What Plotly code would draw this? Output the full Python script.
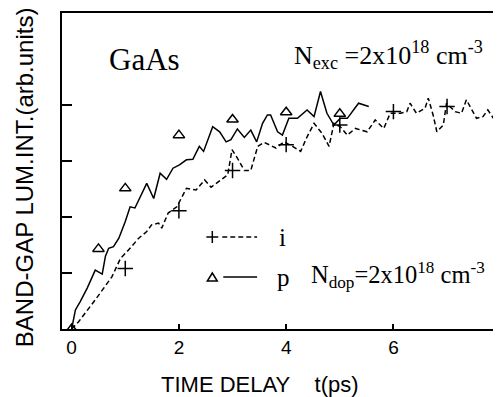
import plotly.graph_objects as go

# p-type (solid) trace
t_p_line = [0, 0.07, 0.16, 0.29, 0.44, 0.57, 0.63, 0.69, 0.78, 0.88, 1.00, 1.09, 1.18, 1.40, 1.53,
            1.65, 1.77, 1.89, 2.01, 2.14, 2.26, 2.38, 2.46, 2.63, 2.76, 2.88, 2.97, 3.09, 3.22, 3.34,
            3.45, 3.56, 3.65, 3.71, 3.84, 3.93, 4.05, 4.21, 4.39, 4.52, 4.64, 4.76, 4.89, 5.01, 5.14,
            5.35, 5.54]
y_p_line = [0, 0.34, 0.49, 0.73, 1.05, 0.98, 1.30, 1.44, 1.47, 1.62, 1.92, 2.18, 2.16, 2.60, 2.33,
            2.78, 2.67, 2.87, 2.93, 3.02, 3.03, 3.26, 3.17, 3.61, 3.52, 3.34, 3.38, 3.57, 3.42, 3.55,
            3.34, 3.67, 3.82, 3.82, 3.52, 3.46, 3.76, 3.76, 3.91, 3.79, 4.24, 3.85, 3.64, 3.76, 3.76,
            4.03, 3.97]

# intrinsic (dashed) trace
t_i_line = [0, 0.13, 0.44, 0.75, 0.91, 1.06, 1.25, 1.40, 1.49, 1.62, 1.68, 1.80, 1.96, 2.14, 2.32,
            2.48, 2.60, 2.79, 2.91, 2.99, 3.09, 3.22, 3.34, 3.47, 3.59, 3.81, 3.96, 4.12, 4.27, 4.39,
            4.52, 4.67, 4.80, 4.89, 5.01, 5.14, 5.29, 5.51, 5.66, 5.82, 5.94, 6.13, 6.25, 6.31, 6.43,
            6.59, 6.65, 6.74, 6.81, 6.93, 6.99, 7.15, 7.27, 7.36, 7.45, 7.55, 7.67, 7.76, 7.88]
y_i_line = [0, 0.13, 0.52, 0.93, 1.26, 1.41, 1.62, 1.74, 1.86, 1.89, 1.80, 2.07, 2.18, 2.51, 2.48,
            2.66, 2.53, 2.67, 2.75, 3.20, 3.05, 2.83, 2.83, 3.26, 3.33, 3.23, 3.34, 3.26, 3.17, 3.43,
            3.67, 3.49, 3.26, 3.67, 3.61, 3.46, 3.58, 3.52, 3.73, 3.58, 3.85, 3.85, 3.88, 4.03, 3.85,
            3.94, 4.12, 3.82, 3.52, 3.64, 4.03, 3.88, 3.85, 4.09, 3.94, 3.76, 3.79, 3.91, 3.74]

# markers
t_p_pts = [0, 0.5, 1, 2, 3, 4, 5]
y_p_pts = [0, 1.43, 2.51, 3.46, 3.74, 3.87, 3.84]
t_i_pts = [1, 2, 3, 4, 5, 6, 7]
y_i_pts = [1.08, 2.11, 2.83, 3.29, 3.64, 3.88, 3.97]

x_ticks = [0, 2, 4, 6]
y_ticks = [1, 2, 3, 4]

SANS = "Liberation Sans, Arial, sans-serif"
SERIF = "Liberation Serif, Times New Roman, serif"

fig = go.Figure()
fig.add_trace(go.Scatter(x=t_i_line, y=y_i_line, mode="lines",
                         line=dict(color="black", width=1.5, dash="5px,3px"), showlegend=False))
fig.add_trace(go.Scatter(x=t_p_line, y=y_p_line, mode="lines",
                         line=dict(color="black", width=1.5), showlegend=False))
fig.add_trace(go.Scatter(x=t_i_pts, y=y_i_pts, mode="markers",
                         marker=dict(symbol="cross-thin-open", size=11, color="black",
                                     line=dict(color="black", width=1.5)), showlegend=False))
fig.add_trace(go.Scatter(x=t_p_pts, y=y_p_pts, mode="markers",
                         marker=dict(symbol="triangle-up-open", size=10, color="black",
                                     line=dict(color="black", width=1.5)), showlegend=False))

# the page body adds an 8px offset; figure is sized to fit the window
OFF = 8
W, H = 493, 389
L, R, T, B = 54, 1, 5, 68
pw, ph = W - L - R, H - T - B
PL = L + OFF          # plot-area left edge in page pixels
PB = OFF + H - B      # plot-area bottom edge in page pixels


def px(x):
    return (x - PL) / pw


def py(y):
    return (PB - y) / ph


annotations = [
    dict(text="GaAs", x=px(107), y=py(59), xanchor="left", yanchor="middle",
         font=dict(family=SERIF, size=31, color="black")),
    dict(text="N<sub>exc</sub> =2x10<sup>18</sup> cm<sup>-3</sup>", x=px(293), y=py(55),
         xanchor="left", yanchor="middle", font=dict(family=SERIF, size=26, color="black")),
    dict(text="i", x=px(284), y=py(237), xanchor="center", yanchor="middle",
         font=dict(family=SERIF, size=25, color="black")),
    dict(text="p", x=px(285), y=py(277), xanchor="center", yanchor="middle",
         font=dict(family=SERIF, size=25, color="black")),
    dict(text="N<sub>dop</sub>=2x10<sup>18</sup> cm<sup>-3</sup>", x=px(310), y=py(275),
         xanchor="left", yanchor="middle", font=dict(family=SERIF, size=24.5, color="black")),
    dict(text="TIME DELAY\u00a0\u00a0\u00a0\u00a0t(ps)", x=px(261), y=py(384), xanchor="center",
         yanchor="middle", font=dict(family=SANS, size=22, color="black")),
    dict(text="BAND-GAP LUM.INT.(arb.units)", x=px(24), y=py(177), xanchor="center",
         yanchor="middle", textangle=-90, font=dict(family=SANS, size=24, color="black")),
]
for a in annotations:
    a.update(xref="paper", yref="paper", showarrow=False)

shapes = [
    # legend: cross + dashed line
    dict(type="line", x0=px(207), x1=px(219), y0=py(237), y1=py(237)),
    dict(type="line", x0=px(213), x1=px(213), y0=py(231), y1=py(243)),
    dict(type="line", x0=px(223), x1=px(258), y0=py(237), y1=py(237), line=dict(dash="5px,3px")),
    # legend: triangle + solid line
    dict(type="path", path=f"M {px(208)},{py(281)} L {px(218)},{py(281)} L {px(213)},{py(273)} Z"),
    dict(type="line", x0=px(224), x1=px(258), y0=py(277), y1=py(277)),
]
for s in shapes:
    s.update(xref="paper", yref="paper")
    ln = s.get("line", {})
    ln.update(color="black", width=1.5)
    s["line"] = ln

fig.update_layout(
    width=W, height=H,
    margin=dict(l=L, r=R, t=T, b=B),
    paper_bgcolor="white", plot_bgcolor="white",
    annotations=annotations, shapes=shapes,
    xaxis=dict(range=[-0.18, 7.95], tickvals=x_ticks, ticktext=[str(v) for v in x_ticks],
               ticks="inside", ticklen=5, tickwidth=1.5, tickcolor="black",
               showline=True, linewidth=2, linecolor="black", mirror=True,
               showgrid=False, zeroline=False,
               tickfont=dict(family=SANS, size=19, color="black")),
    yaxis=dict(range=[0, 5.64], tickvals=y_ticks, showticklabels=False,
               ticks="inside", ticklen=10, tickwidth=1.5, tickcolor="black",
               showline=True, linewidth=2, linecolor="black", mirror=True,
               showgrid=False, zeroline=False),
)

fig.write_html("out.html")
